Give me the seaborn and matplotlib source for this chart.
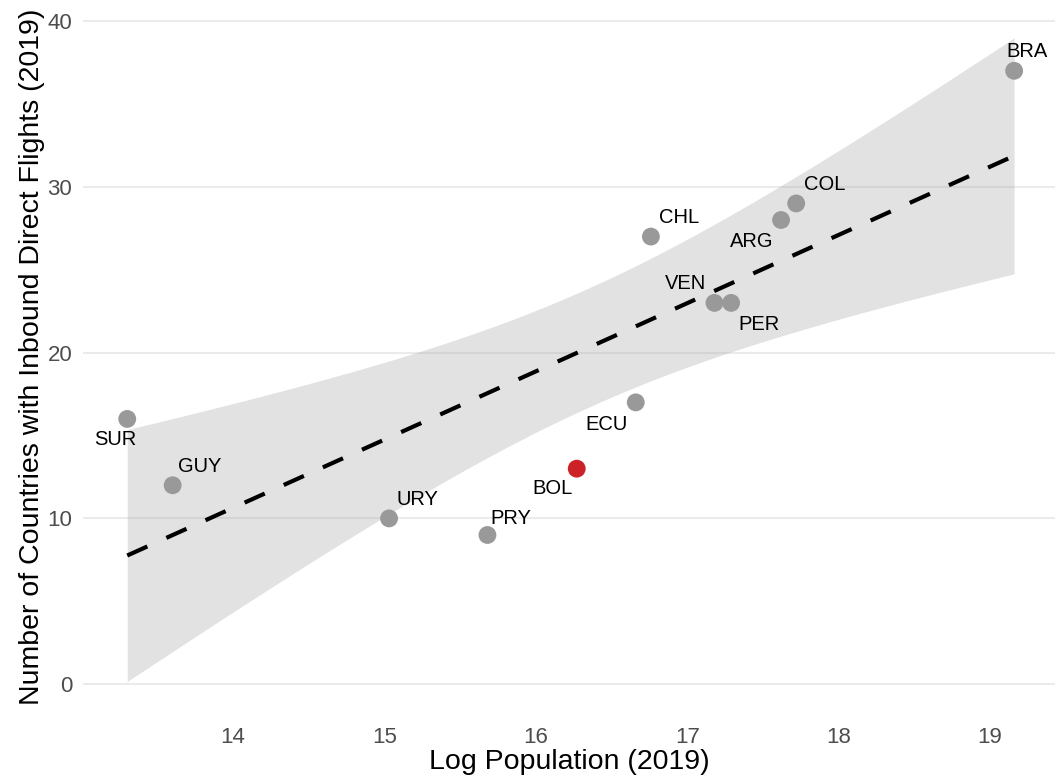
import numpy as np
import pandas as pd
import matplotlib
matplotlib.use("Agg")
import matplotlib.pyplot as plt
import seaborn as sns

# South American countries: log population vs. number of countries with inbound direct flights
countries = ["SUR", "GUY", "URY", "PRY", "BOL", "ECU", "CHL", "VEN", "PER", "ARG", "COL", "BRA"]
log_pop = [13.30, 13.60, 15.03, 15.68, 16.27, 16.66, 16.76, 17.18, 17.29, 17.62, 17.72, 19.16]
flights = [16, 12, 10, 9, 13, 17, 27, 23, 23, 28, 29, 37]
highlight = "BOL"

# label offsets (pixels, relative to the point)
label_offsets = {
    "SUR": (-12, -21), "GUY": (27, 19), "URY": (28, 19), "PRY": (23, 16),
    "BOL": (-24, -20), "ECU": (-29, -22), "CHL": (28, 19), "VEN": (-29, 19),
    "PER": (28, -22), "ARG": (-29, -22), "COL": (28, 19), "BRA": (13, 19),
}

df = pd.DataFrame({"country": countries, "log_pop": log_pop, "flights": flights})
df["group"] = np.where(df["country"] == highlight, "hl", "other")

sns.set_theme(style="white")
plt.rcParams["font.family"] = ["Liberation Sans", "DejaVu Sans"]

fig = plt.figure(figsize=(10.55, 7.78), dpi=100)
ax = fig.add_axes([0.079, 0.082, 0.921, 0.918])

# 95% confidence band of the linear fit (t-based, as in a standard lm smoother)
x = df["log_pop"].to_numpy()
y = df["flights"].to_numpy(dtype=float)
n = len(x)
b1, b0 = np.polyfit(x, y, 1)
resid = y - (b0 + b1 * x)
s = np.sqrt(np.sum(resid ** 2) / (n - 2))
sxx = np.sum((x - x.mean()) ** 2)
t_crit = 2.228  # t(0.975, df=10)
xg = np.linspace(x.min(), x.max(), 200)
yg = b0 + b1 * xg
half = t_crit * s * np.sqrt(1.0 / n + (xg - x.mean()) ** 2 / sxx)
ax.fill_between(xg, yg - half, yg + half, color="#999999", alpha=0.28, linewidth=0, zorder=1)

# fitted line
sns.regplot(data=df, x="log_pop", y="flights", ci=None, scatter=False, truncate=True,
            line_kws=dict(color="black", linewidth=3, linestyle=(0, (5.3, 5.0))), ax=ax)

# points
sns.scatterplot(data=df, x="log_pop", y="flights", hue="group",
                palette={"other": "#999999", "hl": "#CC2127"},
                s=165, linewidth=0, legend=False, zorder=4, ax=ax)

for c, xv, yv in zip(countries, log_pop, flights):
    dx, dy = label_offsets[c]
    ax.annotate(c, (xv, yv), xytext=(dx, dy), textcoords="offset pixels",
                ha="center", va="center", fontsize=14.5, color="black", zorder=5)

ax.set_xlim(13.01, 19.43)
ax.set_ylim(-1.81, 41.27)
ax.set_xticks([14, 15, 16, 17, 18, 19])
ax.set_yticks([0, 10, 20, 30, 40])
ax.grid(axis="y", color="#EBEBEB", linewidth=1.5, zorder=0)
ax.grid(axis="x", visible=False)
ax.set_axisbelow(True)
for sp in ax.spines.values():
    sp.set_visible(False)
ax.tick_params(axis="both", length=0, labelsize=16, labelcolor="#4D4D4D")
ax.tick_params(axis="x", pad=9)
ax.tick_params(axis="y", pad=8)
ax.set_xlabel("Log Population (2019)", fontsize=20.5, color="black", labelpad=1)
ax.set_ylabel("Number of Countries with Inbound Direct Flights (2019)", fontsize=20.5,
              color="black", labelpad=2)

fig.savefig("out.png", dpi=100)
